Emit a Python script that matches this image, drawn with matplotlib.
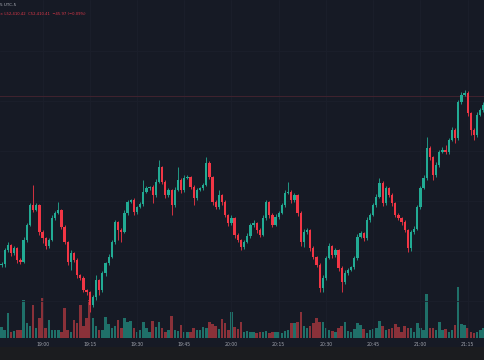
import matplotlib
matplotlib.use("Agg")
import matplotlib.pyplot as plt
import pandas as pd
from matplotlib.patches import Rectangle

# ---- data ----
open_first = 52072
closes = [
    52074, 52102, 52112, 52096, 52106, 52082, 52078, 52122, 52152, 52192,
    52182, 52192, 52138, 52126, 52110, 52122, 52166, 52176, 52182, 52148,
    52118, 52078, 52096, 52082, 52052, 52046, 52022, 52018, 51992, 52008,
    52042, 52022, 52056, 52076, 52088, 52118, 52158, 52142, 52138, 52176,
    52198, 52202, 52178, 52188, 52194, 52218, 52226, 52228, 52212, 52238,
    52268, 52238, 52212, 52222, 52192, 52222, 52242, 52222, 52246, 52248,
    52228, 52206, 52222, 52226, 52232, 52276, 52248, 52198, 52188, 52212,
    52198, 52172, 52156, 52166, 52132, 52122, 52108, 52118, 52130, 52152,
    52156, 52142, 52132, 52166, 52198, 52172, 52152, 52168, 52176, 52192,
    52216, 52218, 52202, 52212, 52176, 52118, 52138, 52142, 52106, 52088,
    52072, 52026, 52046, 52086, 52110, 52092, 52102, 52066, 52038, 52056,
    52062, 52068, 52086, 52128, 52136, 52126, 52162, 52172, 52192, 52208,
    52236, 52196, 52226, 52212, 52196, 52172, 52166, 52158, 52142, 52106,
    52138, 52144, 52188, 52226, 52246, 52306, 52288, 52252, 52272, 52298,
    52302, 52298, 52322, 52342, 52326, 52398, 52412, 52416, 52376, 52342,
    52332, 52372, 52382, 52392,
]
upper_wick = [
    4, 4, 6, 2, 4, 2, 4, 6, 4, 4,
    40, 4, 2, 4, 2, 4, 6, 4, 16, 2,
    4, 2, 6, 2, 4, 2, 4, 2, 2, 4,
    10, 2, 4, 2, 6, 4, 4, 2, 4, 6,
    4, 2, 4, 2, 4, 24, 4, 2, 4, 6,
    14, 2, 4, 4, 2, 6, 26, 4, 6, 4,
    2, 4, 4, 2, 4, 12, 4, 2, 4, 10,
    2, 4, 2, 6, 2, 4, 2, 4, 6, 4,
    6, 2, 4, 6, 4, 2, 4, 6, 4, 4,
    6, 20, 4, 4, 2, 4, 6, 4, 2, 4,
    2, 4, 6, 4, 6, 2, 4, 2, 4, 6,
    4, 2, 4, 6, 4, 2, 6, 4, 4, 6,
    10, 4, 4, 2, 4, 2, 4, 2, 4, 2,
    4, 6, 4, 4, 6, 22, 4, 2, 6, 4,
    6, 10, 4, 6, 4, 4, 6, 6, 4, 2,
    4, 6, 4, 6,
]
lower_wick = [
    4, 6, 4, 6, 4, 6, 4, 2, 4, 2,
    4, 2, 6, 10, 6, 4, 2, 4, 2, 4,
    4, 6, 16, 4, 6, 4, 4, 6, 14, 4,
    6, 10, 4, 6, 4, 2, 4, 20, 20, 2,
    4, 2, 6, 4, 2, 4, 2, 4, 16, 4,
    2, 4, 6, 4, 20, 4, 2, 6, 4, 2,
    4, 14, 4, 2, 4, 2, 4, 6, 4, 4,
    6, 4, 6, 4, 6, 4, 6, 4, 2, 4,
    4, 6, 4, 2, 4, 6, 4, 2, 4, 2,
    4, 2, 6, 4, 6, 8, 10, 4, 6, 4,
    4, 8, 8, 4, 2, 6, 4, 6, 20, 4,
    4, 2, 4, 4, 2, 6, 4, 4, 2, 4,
    2, 6, 4, 4, 6, 4, 4, 6, 4, 8,
    6, 4, 2, 4, 2, 4, 6, 10, 4, 4,
    2, 4, 4, 2, 10, 4, 4, 2, 6, 10,
    10, 4, 2, 4,
]
volumes = [
    110, 80, 250, 60, 70, 80, 80, 380, 150, 120,
    330, 100, 200, 400, 100, 180, 80, 80, 80, 60,
    300, 80, 60, 180, 150, 330, 120, 200, 380, 200,
    120, 80, 80, 210, 140, 100, 120, 180, 100, 200,
    160, 170, 100, 60, 80, 160, 100, 60, 170, 110,
    160, 100, 60, 80, 220, 80, 70, 130, 60, 60,
    60, 100, 80, 80, 110, 100, 160, 140, 120, 90,
    190, 150, 80, 260, 110, 90, 160, 60, 70, 60,
    60, 50, 60, 60, 70, 50, 60, 60, 60, 50,
    70, 80, 150, 150, 160, 260, 120, 100, 120, 150,
    200, 160, 160, 100, 80, 70, 60, 100, 120, 160,
    70, 60, 90, 150, 130, 90, 50, 80, 90, 100,
    170, 120, 80, 90, 100, 140, 110, 60, 120, 100,
    100, 60, 150, 100, 80, 440, 100, 100, 80, 160,
    80, 90, 60, 80, 130, 510, 140, 130, 100, 60,
    50, 60, 80, 100,
]
start_time = "18:47"
last_price_line = 52410
header_line1 = "5 UTC-5"
header_line2 = "\u00d7 L52,410.42  C52,410.41  \u221245.97 (\u22120.09%)"

# ---- styling ----
BG = "#161a25"
GRID = "#1b1f2b"
UP = "#22ab94"
DOWN = "#f23645"
UP_VOL = "#1f7069"
DOWN_VOL = "#8a3139"
HEAD_RED = "#e0394a"

n = len(closes)
opens = [open_first] + closes[:-1]
highs = [max(o, c) + u for o, c, u in zip(opens, closes, upper_wick)]
lows = [min(o, c) - l for o, c, l in zip(opens, closes, lower_wick)]
times = pd.date_range("2024-01-01 " + start_time, periods=n, freq="min")

W, H = 485, 360
fig = plt.figure(figsize=(W / 100, H / 100), dpi=100)
fig.patch.set_facecolor("#1b1c1f")

# time-axis band
fig.patches.append(Rectangle((0, 1 - 347 / H), 1, 9 / H, transform=fig.transFigure,
                             facecolor=BG, edgecolor="none", zorder=0))

ax = fig.add_axes([0, 1 - 338 / H, 1, 338 / H])
ax.set_xlim(-0.5, 153.5)
ax.set_ylim(51926, 52602)

# volume (background axis)
axv = ax.twinx()
axv.set_ylim(0, 3380)
axv.set_zorder(0)
ax.set_zorder(1)
ax.patch.set_visible(False)
axv.patch.set_visible(True)
axv.patch.set_facecolor(BG)

# grid
for p in [52000, 52100, 52200, 52300, 52400, 52500]:
    ax.axhline(p, color=GRID, lw=0.6, zorder=0)
tick_idx = [i for i, t in enumerate(times) if t.minute % 15 == 0]
for i in tick_idx:
    ax.axvline(i, color=GRID, lw=0.6, zorder=0)

for i in range(n):
    up = closes[i] >= opens[i]
    axv.bar(i, volumes[i], width=0.8, color=UP_VOL if up else DOWN_VOL,
            linewidth=0, zorder=1)
axv.set_yticks([])
for s in axv.spines.values():
    s.set_visible(False)

# candles
for i in range(n):
    up = closes[i] >= opens[i]
    col = UP if up else DOWN
    ax.vlines(i, lows[i], highs[i], color=col, lw=0.6, zorder=3)
    lo, hi = min(opens[i], closes[i]), max(opens[i], closes[i])
    if hi - lo < 1.5:
        hi = lo + 1.5
    ax.bar(i, hi - lo, bottom=lo, width=0.72, color=col, linewidth=0, zorder=4)

ax.axhline(last_price_line, color="#41232f", lw=0.7, zorder=2)

# x ticks
ax.set_xticks(tick_idx)
ax.set_xticklabels([times[i].strftime("%H:%M") for i in tick_idx],
                   fontsize=3.3, color="#a0a3ab")
ax.tick_params(axis="x", length=0, pad=3.2)
ax.set_yticks([])
for s in ax.spines.values():
    s.set_visible(False)

# header
fig.text(0 / W, 1 - 5.5 / H, header_line1, fontsize=3.0, color="#b2b5be", va="center", ha="left")
fig.text(0 / W, 1 - 14 / H, header_line2, fontsize=2.7, color=HEAD_RED, va="center", ha="left")

fig.savefig("out.png", dpi=100, facecolor=fig.get_facecolor())
